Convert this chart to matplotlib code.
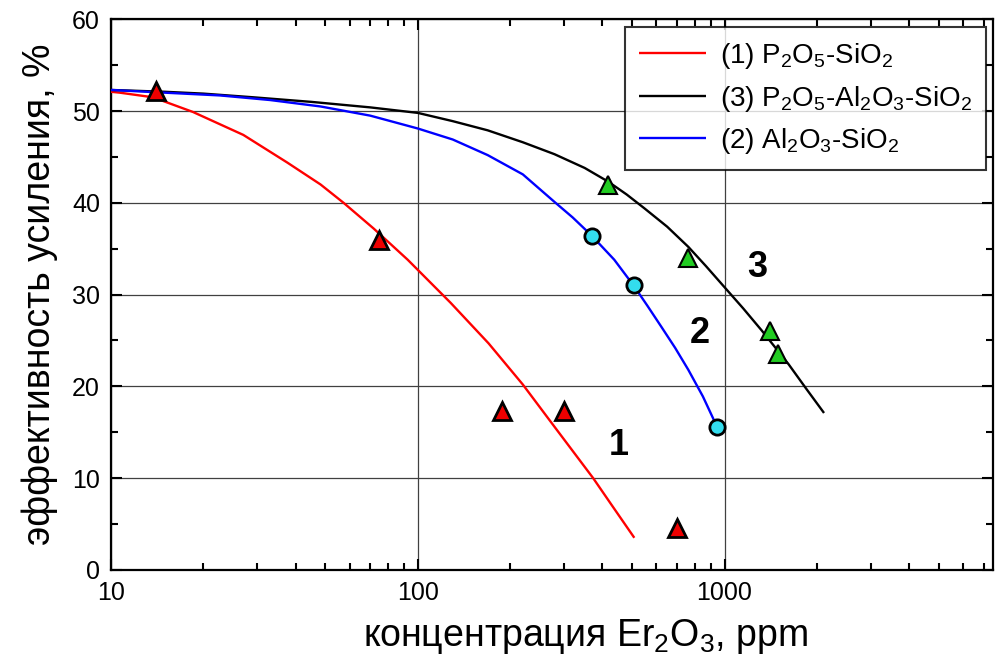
import numpy as np
import matplotlib
matplotlib.use('Agg')
import matplotlib.pyplot as plt
from matplotlib.ticker import MultipleLocator, LogLocator, NullFormatter, FixedLocator, FixedFormatter

plt.rcParams['font.family'] = ['Liberation Sans', 'DejaVu Sans']
plt.rcParams['mathtext.fontset'] = 'custom'
plt.rcParams['mathtext.rm'] = 'Liberation Sans'
plt.rcParams['mathtext.it'] = 'Liberation Sans:italic'
plt.rcParams['mathtext.bf'] = 'Liberation Sans:bold'

# Экспериментальные точки
x_p_si = [14, 75, 188, 300, 700]
y_p_si = [52.2, 35.9, 17.3, 17.3, 4.6]

x_al_si = [370, 505, 945]
y_al_si = [36.4, 31.0, 15.6]

x_p_al_si = [418, 762, 1403, 1490]
y_p_al_si = [41.9, 34.0, 26.0, 23.5]

# Кривые
xc1 = [10, 10.7, 13.7, 18.5, 27, 37.5, 48.2, 57.3, 71.8, 92.7, 128, 170, 220, 279, 373, 430, 508]
yc1 = [52.1, 52.0, 51.5, 49.9, 47.4, 44.4, 42.0, 40.0, 37.2, 33.8, 29.1, 24.7, 20.2, 15.6, 10.0, 7.0, 3.5]

xc2 = [10, 15, 22.7, 33, 48.2, 70, 100, 130, 169, 220, 279, 320, 367, 437, 505, 560, 622, 690, 762, 850, 945]
yc2 = [52.3, 52.0, 51.7, 51.2, 50.5, 49.5, 48.1, 46.9, 45.2, 43.1, 40.1, 38.4, 36.5, 33.8, 31.0, 28.8, 26.5, 24.2, 21.8, 18.9, 15.6]

xc3 = [10, 15, 20, 29.1, 45, 70, 100, 130, 169, 220, 279, 350, 418, 480, 548, 650, 762, 870, 1000, 1150, 1321, 1450, 1618, 1850, 2110]
yc3 = [52.3, 52.1, 51.9, 51.5, 51.0, 50.4, 49.8, 48.9, 47.9, 46.6, 45.3, 43.8, 42.3, 40.9, 39.4, 37.4, 35.2, 33.1, 30.8, 28.5, 26.1, 24.4, 22.4, 19.7, 17.1]

labels_txt = ['1', '2', '3']
labels_x = [451, 828, 1282]
labels_y = [13.6, 25.8, 32.9]

fig, ax = plt.subplots(figsize=(10, 6.65), dpi=100)
fig.subplots_adjust(left=0.111, right=0.993, bottom=0.143, top=0.971)

ax.set_xscale('log')
ax.set_xlim(10, 7500)
ax.set_ylim(0, 60)

ax.grid(True, which='major', color='0.25', linewidth=0.9)
ax.set_axisbelow(True)

lkw = dict(lw=1.7, solid_joinstyle='round', solid_capstyle='butt', zorder=3)
ax.plot(xc1, yc1, color='#ff0000', label=r'(1) P$\mathregular{_2}$O$\mathregular{_5}$-SiO$\mathregular{_2}$', **lkw)
ax.plot(xc3, yc3, color='black', label=r'(3) P$\mathregular{_2}$O$\mathregular{_5}$-Al$\mathregular{_2}$O$\mathregular{_3}$-SiO$\mathregular{_2}$', **lkw)
ax.plot(xc2, yc2, color='#0000ff', label=r'(2) Al$\mathregular{_2}$O$\mathregular{_3}$-SiO$\mathregular{_2}$', **lkw)

ax.plot(x_p_si, y_p_si, '^', ms=13, mfc='#ee0000', mec='black', mew=2, ls='none', zorder=4)
ax.plot(x_p_al_si, y_p_al_si, '^', ms=13, mfc='#22cc22', mec='black', mew=1.5, ls='none', zorder=4)
ax.plot(x_al_si, y_al_si, 'o', ms=11, mfc='#33ddee', mec='black', mew=2, ls='none', zorder=4)

for t, xx, yy in zip(labels_txt, labels_x, labels_y):
    ax.text(xx, yy, t, fontsize=26, fontweight='bold', ha='center', va='center')

ax.xaxis.set_major_locator(FixedLocator([10, 100, 1000]))
ax.xaxis.set_major_formatter(FixedFormatter(['10', '100', '1000']))
ax.xaxis.set_minor_locator(LogLocator(base=10, subs=np.arange(2, 10)))
ax.xaxis.set_minor_formatter(NullFormatter())
ax.yaxis.set_major_locator(MultipleLocator(10))
ax.yaxis.set_minor_locator(MultipleLocator(5))

ax.tick_params(which='both', direction='in', top=True, right=True, width=1.5, labelsize=18, pad=8)
ax.tick_params(which='major', length=8)
ax.tick_params(which='minor', length=5)
for s in ax.spines.values():
    s.set_linewidth(1.6)

ax.set_xlabel(r'концентрация Er$\mathregular{_2}$O$\mathregular{_3}$, ppm', fontsize=27)
ax.xaxis.set_label_coords(0.5385, -0.085)
ax.set_ylabel('эффективность усиления, %', fontsize=27, labelpad=10)

leg = ax.legend(loc='upper right', fontsize=20, frameon=True, fancybox=False,
                edgecolor='black', handlelength=2.4, handletextpad=0.5, borderpad=0.5,
                labelspacing=0.45, bbox_to_anchor=(1.0075, 1.011))
leg.get_frame().set_linewidth(1.5)

fig.savefig('out.png', dpi=100)
